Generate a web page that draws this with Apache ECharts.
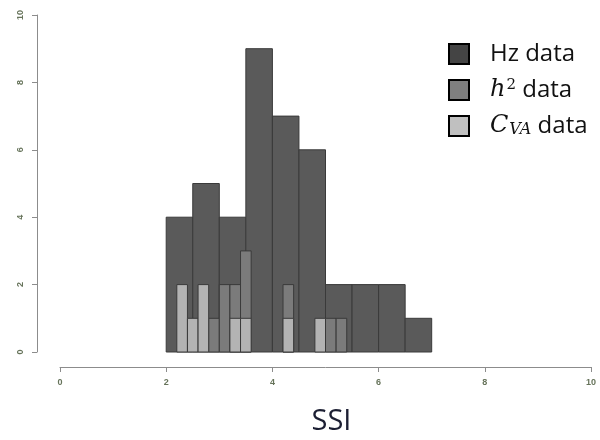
<!DOCTYPE html>
<html>
<head>
<meta charset="utf-8">
<script src="https://cdn.jsdelivr.net/npm/echarts@6/dist/echarts.min.js"></script>
<style>
  html, body { margin: 0; padding: 0; background: #fff; }
  #chart { width: 600px; height: 440px; }
</style>
</head>
<body>
<div id="chart"></div>
<script>
// Hz histogram (bins of 0.5)
var hzBreaks = [2, 2.5, 3, 3.5, 4, 4.5, 5, 5.5, 6, 6.5, 7];
var hzCounts = [4, 5, 4, 9, 7, 6, 2, 2, 2, 1];

// h^2 histogram (bins of 0.2), only non-empty bins
var h2Lo = [2.8, 3.0, 3.2, 3.4, 4.2, 5.0, 5.2];
var h2Hi = [3.0, 3.2, 3.4, 3.6, 4.4, 5.2, 5.4];
var h2Counts = [1, 2, 2, 3, 2, 1, 1];

// C_VA histogram (bins of 0.2), only non-empty bins
var cvaLo = [2.2, 2.4, 2.6, 3.2, 3.4, 4.2, 4.8];
var cvaHi = [2.4, 2.6, 2.8, 3.4, 3.6, 4.4, 5.0];
var cvaCounts = [2, 1, 2, 1, 1, 1, 1];

var seriesNames = ['Hz data', 'h2 data', 'CVA data'];

var hzData = hzCounts.map(function (c, i) { return [hzBreaks[i], hzBreaks[i + 1], c]; });
var h2Data = h2Counts.map(function (c, i) { return [h2Lo[i], h2Hi[i], c]; });
var cvaData = cvaCounts.map(function (c, i) { return [cvaLo[i], cvaHi[i], c]; });

function makeRender(fill) {
    return function (params, api) {
        var p0 = api.coord([api.value(0), api.value(2)]);
        var p1 = api.coord([api.value(1), 0]);
        return {
            type: 'rect',
            shape: {x: p0[0], y: p0[1], width: p1[0] - p0[0], height: p1[1] - p0[1]},
            style: {fill: fill, stroke: '#3a3a3a', lineWidth: 1}
        };
    };
}

var chart = echarts.init(document.getElementById('chart'));
chart.setOption({
    animation: false,
    backgroundColor: '#fff',
    grid: {left: 60, right: 9, top: 15, bottom: 88, outerBoundsMode: 'none'},
    legend: {
        orient: 'vertical',
        left: 443,
        top: 37,
        itemWidth: 20,
        itemHeight: 20,
        itemGap: 12,
        icon: 'rect',
        data: [
            {name: seriesNames[0], itemStyle: {color: '#444444', borderColor: '#000', borderWidth: 2}},
            {name: seriesNames[1], itemStyle: {color: '#7f7f7f', borderColor: '#000', borderWidth: 2}},
            {name: seriesNames[2], itemStyle: {color: '#c0c0c0', borderColor: '#000', borderWidth: 2}}
        ],
        formatter: function (name) {
            if (name === seriesNames[0]) return '{t|Hz data}';
            if (name === seriesNames[1]) return '{i|h}{sup|2}{t| data}';
            return '{i|C}{sub|VA}{t| data}';
        },
        textStyle: {
            padding: [0, 0, 0, 16],
            rich: {
                t: {fontFamily: 'Open Sans', fontSize: 24, color: '#111', lineHeight: 24},
                i: {fontFamily: 'DejaVu Serif', fontStyle: 'italic', fontSize: 24, color: '#111', lineHeight: 24},
                sup: {fontFamily: 'DejaVu Serif', fontSize: 15, color: '#111', verticalAlign: 'top', lineHeight: 24, padding: [0, 0, 0, 1]},
                sub: {fontFamily: 'DejaVu Serif', fontStyle: 'italic', fontSize: 16, color: '#111', verticalAlign: 'bottom', lineHeight: 24, padding: [0, 0, 0, 1]}
            }
        }
    },
    xAxis: {
        type: 'value',
        min: 0,
        max: 10,
        interval: 2,
        offset: 15,
        name: 'SSI',
        nameLocation: 'middle',
        nameGap: 40,
        nameTextStyle: {fontFamily: 'Open Sans', fontSize: 29, color: '#1c1f33', padding: [0, 0, 0, 12]},
        axisLine: {show: true, onZero: false, lineStyle: {color: '#8c8c8c', width: 1}},
        axisTick: {show: true, length: 5, lineStyle: {color: '#8c8c8c'}},
        axisLabel: {fontSize: 9, fontWeight: 'bold', color: '#66735a', margin: 11},
        splitLine: {show: false}
    },
    yAxis: {
        type: 'value',
        min: 0,
        max: 10,
        interval: 2,
        offset: 23,
        axisLine: {show: true, onZero: false, lineStyle: {color: '#8c8c8c', width: 1}},
        axisTick: {show: true, length: 5, lineStyle: {color: '#8c8c8c'}},
        axisLabel: {fontSize: 9, fontWeight: 'bold', color: '#66735a', rotate: 90, margin: 12},
        splitLine: {show: false}
    },
    series: [
        {name: seriesNames[0], type: 'custom', renderItem: makeRender('#5a5a5a'),
         itemStyle: {color: '#444444'}, encode: {x: [0, 1], y: 2}, data: hzData},
        {name: seriesNames[1], type: 'custom', renderItem: makeRender('#7b7b7b'),
         itemStyle: {color: '#7f7f7f'}, encode: {x: [0, 1], y: 2}, data: h2Data},
        {name: seriesNames[2], type: 'custom', renderItem: makeRender('#b3b3b3'),
         itemStyle: {color: '#c0c0c0'}, encode: {x: [0, 1], y: 2}, data: cvaData}
    ]
});
</script>
</body>
</html>
